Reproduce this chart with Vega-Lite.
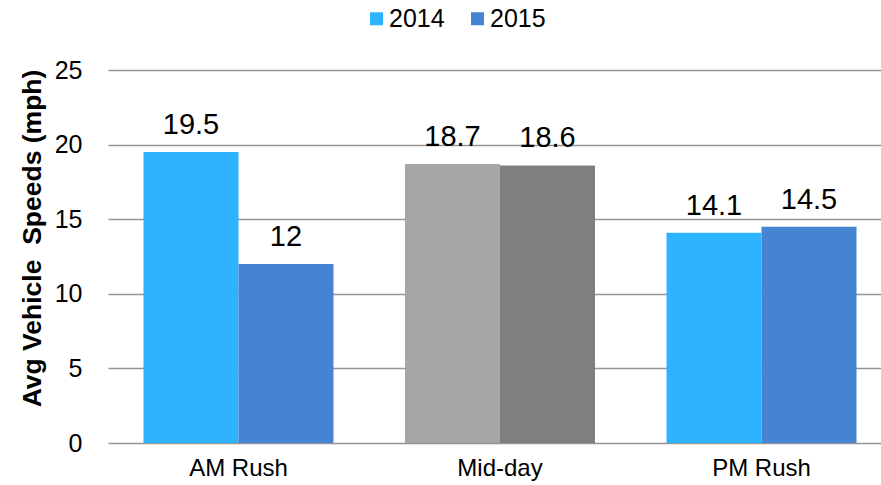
{
  "$schema": "https://vega.github.io/schema/vega-lite/v6.json",
  "autosize": {"type": "none"},
  "width": 772,
  "height": 373,
  "padding": {"left": 108, "top": 70, "right": 1, "bottom": 42},
  "background": "white",
  "config": {
    "view": {"stroke": null},
    "font": "Liberation Sans",
    "axis": {"labelFont": "Liberation Sans", "titleFont": "Liberation Sans", "labelColor": "#000000", "titleColor": "#000000"},
    "legend": {"labelFont": "Liberation Sans"}
  },
  "data": {
    "values": [
      {"period": "AM Rush", "year": "2014", "speed": 19.5},
      {"period": "AM Rush", "year": "2015", "speed": 12},
      {"period": "Mid-day", "year": "2014", "speed": 18.7},
      {"period": "Mid-day", "year": "2015", "speed": 18.6},
      {"period": "PM Rush", "year": "2014", "speed": 14.1},
      {"period": "PM Rush", "year": "2015", "speed": 14.5}
    ]
  },
  "encoding": {
    "x": {
      "field": "period",
      "type": "nominal",
      "sort": ["AM Rush", "Mid-day", "PM Rush"],
      "scale": {"range": [0, 784], "paddingInner": 0.2734, "paddingOuter": 0.1357},
      "axis": {"title": null, "labelAngle": 0, "labelFontSize": 24, "labelPadding": 13, "domain": false, "ticks": false, "grid": false}
    },
    "xOffset": {"field": "year", "type": "nominal", "sort": ["2014", "2015"], "scale": {"paddingInner": 0, "paddingOuter": 0}},
    "y": {
      "field": "speed",
      "type": "quantitative",
      "scale": {"domain": [0, 25], "nice": false},
      "axis": {
        "title": "Avg Vehicle\u00a0 Speeds (mph)",
        "titleFontSize": 26.5,
        "titleFontWeight": "bold",
        "titleAngle": 270,
        "titleAlign": "center",
        "titleBaseline": "middle",
        "titleX": -76,
        "titleY": 168,
        "values": [0, 5, 10, 15, 20, 25],
        "labelFontSize": 25,
        "labelPadding": 26,
        "domain": false,
        "ticks": false,
        "grid": true,
        "gridColor": "#959595",
        "gridWidth": 1.3
      }
    }
  },
  "layer": [
    {
      "transform": [{"filter": "datum.period !== 'Mid-day'"}],
      "mark": {"type": "bar"},
      "encoding": {
        "color": {
          "field": "year",
          "type": "nominal",
          "scale": {"domain": ["2014", "2015"], "range": ["#2DB3FF", "#4584D3"]},
          "legend": {
            "title": null,
            "orient": "none",
            "direction": "horizontal",
            "legendX": 256,
            "legendY": -64,
            "symbolType": "square",
            "symbolSize": 169,
            "symbolStrokeWidth": 0,
            "labelFontSize": 25,
            "labelOffset": 0,
            "columnPadding": 20,
            "labelColor": "#000000"
          }
        }
      }
    },
    {
      "transform": [{"filter": "datum.period === 'Mid-day'"}],
      "mark": {"type": "bar"},
      "encoding": {
        "color": {
          "field": "year",
          "type": "nominal",
          "scale": {"domain": ["2014", "2015"], "range": ["#A6A6A6", "#7F7F7F"]},
          "legend": null
        }
      }
    },
    {
      "mark": {"type": "text", "fontSize": 29, "baseline": "alphabetic", "dy": -18, "color": "#000000"},
      "encoding": {
        "text": {"field": "speed", "type": "quantitative"}
      }
    }
  ],
  "resolve": {"scale": {"color": "independent"}, "legend": {"color": "independent"}}
}
